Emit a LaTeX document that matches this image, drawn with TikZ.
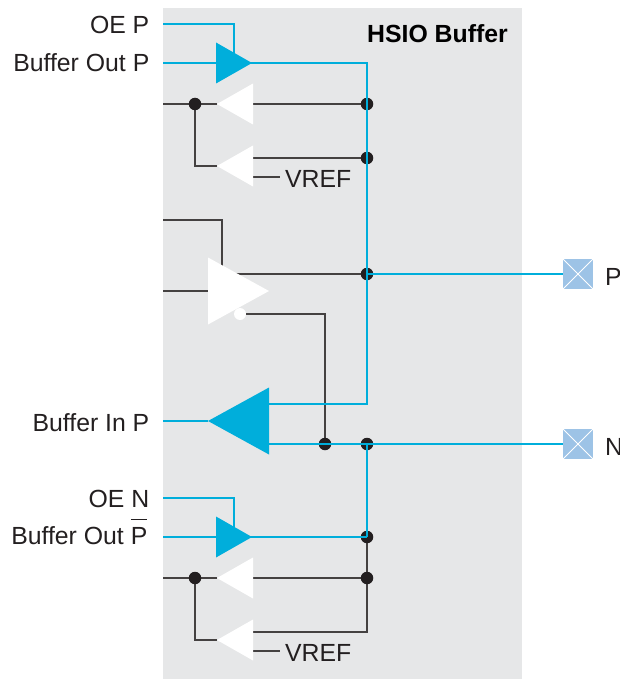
\documentclass[tikz,border=0pt]{standalone}
\usepackage{xcolor}
\usepackage{fontspec}
\setmainfont{Liberation Sans}
\usetikzlibrary{shapes.geometric,backgrounds}
\definecolor{hsio-blau}{RGB}{0,174,219}
\definecolor{hsio-hellgrau}{RGB}{230,231,232}
\definecolor{hsio-pad}{RGB}{157,195,230}
\definecolor{hsio-schwarz}{RGB}{35,31,32}
\tikzset{
  label/.style={inner sep=0pt,text=hsio-schwarz,font=\fontsize{24.8}{28}\selectfont},
  dot/.style={circle,fill=hsio-schwarz,inner sep=0pt,minimum size=12.5pt},
  thin-line/.style={color=hsio-schwarz!85!white,line width=1.15pt},
  blue-line/.style={color=hsio-blau,line width=2.5pt},
  buf/.style={isosceles triangle,isosceles triangle stretches,inner sep=0pt,outer sep=0pt,anchor=apex},
  small-buf/.style={buf,minimum width=41pt,minimum height=36pt},
  big-buf/.style={buf,minimum width=67pt,minimum height=61pt},
  pad/.style={rectangle,fill=hsio-pad,inner sep=0pt,minimum size=30pt,
    path picture={\draw[white,line width=0.9pt]
      (path picture bounding box.south west) -- (path picture bounding box.north east)
      (path picture bounding box.north west) -- (path picture bounding box.south east);}}
}
\begin{document}
\begin{tikzpicture}[x=1pt,y=-1pt]
    \useasboundingbox (0,0) rectangle (619,679);

    \node[small-buf,fill=hsio-blau] (txp) at (252,63) {};
    \node[small-buf,fill=white,shape border rotate=180] (rxp1) at (217,104) {};
    \node[small-buf,fill=white,shape border rotate=180] (rxp2) at (217,166) {};
    \node[big-buf,fill=white] (rxd) at (269,291) {};
    \node[big-buf,fill=hsio-blau,shape border rotate=180] (rxin) at (208,421) {};
    \node[small-buf,fill=hsio-blau] (txn) at (252,537) {};
    \node[small-buf,fill=white,shape border rotate=180] (rxn1) at (217,578) {};
    \node[small-buf,fill=white,shape border rotate=180] (rxn2) at (217,640) {};
    \node[circle,fill=white,inner sep=0pt,minimum size=12pt] (term) at (240,314) {};

    \foreach \name/\x/\y in {d1/195/104,d2/367/104,d3/367/158,d4/367/274,d5/325/444,d6/367/444,d7/367/537,d8/195/578,d9/367/578}{
      \node[dot] (\name) at (\x,\y) {};
    }
    \node[pad] (padp) at (578,274) {};
    \node[pad] (padn) at (578,444) {};

    \node[label,anchor=base east] (oep) at (149.5,34) {OE P};
    \node[label,anchor=base east] (outp) at (149.5,72) {Buffer Out P};
    \node[label,anchor=base east] (inp) at (149.5,431) {Buffer In P};
    \node[label,anchor=base east] (oen) at (149.5,507) {OE N};
    \node[label,anchor=base east] (outn) at (147.5,544) {Buffer Out $\overline{\mbox{\rule{0pt}{23.5pt}P}}$};
    \node[label,anchor=base west] (vref1) at (285,187) {VREF};
    \node[label,anchor=base west] (vref2) at (285,661) {VREF};
    \node[label,anchor=base west,font=\fontsize{24.8}{28}\selectfont\bfseries,text=black] (title) at (367,43) {HSIO Buffer};
    \node[label,anchor=base west] (namep) at (605,285) {P};
    \node[label,anchor=base west] (namen) at (605,455) {N};

    \coordinate (e1) at (163,24);
    \coordinate (e2) at (163,63);
    \coordinate (e3) at (163,104);
    \coordinate (e4) at (163,220);
    \coordinate (e5) at (163,291);
    \coordinate (e6) at (163,421);
    \coordinate (e7) at (163,498);
    \coordinate (e8) at (163,537);
    \coordinate (e9) at (163,578);
    \coordinate (v1) at (280,177);
    \coordinate (v2) at (280,651);

    \begin{pgfonlayer}{background}
      \fill[hsio-hellgrau] (163,8) rectangle (522,679);
      \draw[thin-line] (e3) -- (rxp1.apex);
      \draw[thin-line] (rxp1) -- (d2);
      \draw[thin-line] (d1.center) |- (rxp2.apex);
      \draw[thin-line] (rxp2 |- d3) -- (d3);
      \draw[thin-line] (rxp2 |- v1) -- (v1);
      \draw[thin-line] (e4) -| (222,270);
      \draw[thin-line] (e5) -- (rxd);
      \draw[thin-line] (rxd |- d4) -- (d4);
      \draw[thin-line] (term) -| (d5);
      \draw[thin-line] (d7.center) -- (d9.center) -- (367,632) -- (rxn2 |- 0,632);
      \draw[thin-line] (e9) -- (rxn1.apex);
      \draw[thin-line] (rxn1) -- (d9);
      \draw[thin-line] (d8.center) |- (rxn2.apex);
      \draw[thin-line] (rxn2 |- v2) -- (v2);
    \end{pgfonlayer}

    \draw[blue-line] (e1) -| (234,53);
    \draw[blue-line] (e2) -- (txp.apex) -- (367,63) -- (d4.center) |- (269,404);
    \draw[blue-line] (e6) -- (rxin.apex);
    \draw[blue-line] (d4.center) -- (padp);
    \draw[blue-line] (269,444) -- (padn);
    \draw[blue-line] (d6.center) -- (d7.center);
    \draw[blue-line] (e7) -| (234,527);
    \draw[blue-line] (e8) -- (txn.apex) -- (d7.center);
  \end{tikzpicture}
\end{document}
